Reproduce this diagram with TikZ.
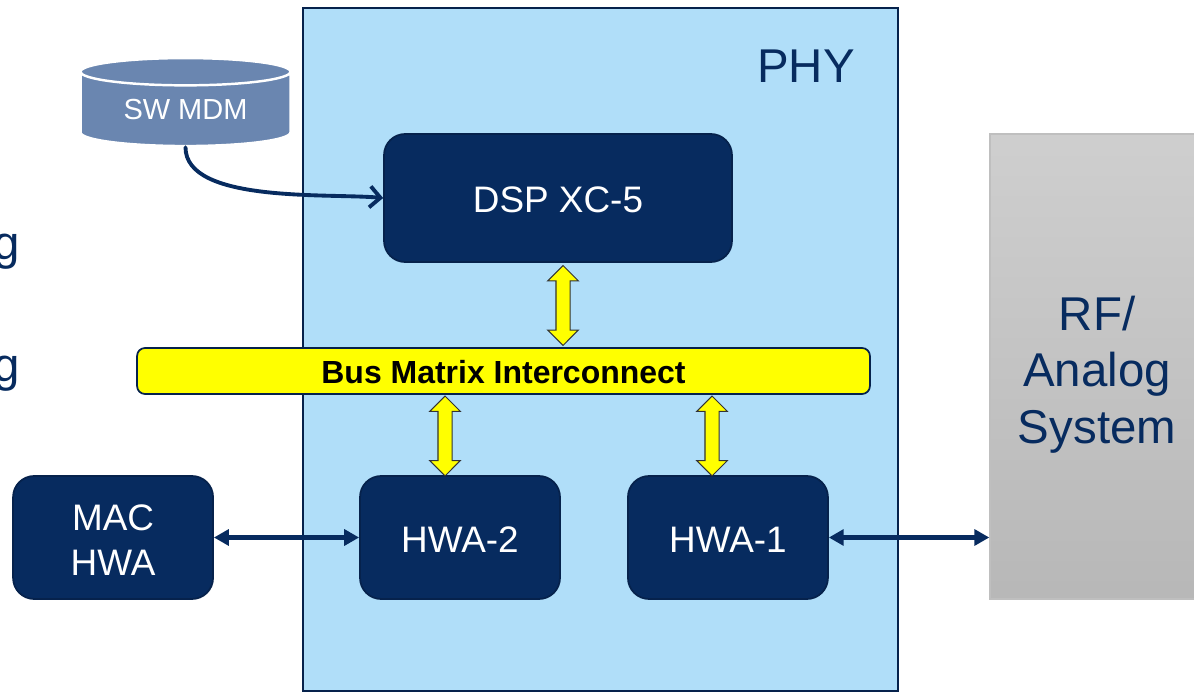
\documentclass[tikz,border=0pt]{standalone}
\usepackage{fontspec}
\setmainfont{Liberation Sans}
\usetikzlibrary{arrows.meta,shapes.geometric,shapes.arrows}
\definecolor{navy}{HTML}{072B5F}
\definecolor{navyline}{HTML}{06224C}
\definecolor{phyblue}{HTML}{B0DEF9}
\definecolor{dbblue}{HTML}{6A86B0}
\definecolor{busyellow}{HTML}{FFFF00}
\newcommand{\bigtext}{\fontsize{27}{32.2}\selectfont}
\newcommand{\midtext}{\fontsize{21}{25.6}\selectfont}
\begin{document}
\begin{tikzpicture}[x=0.02cm, y=-0.02cm, node distance={53.6mm},
	main/.style = {draw=navyline, fill=navy, line width=1pt, rounded corners=12pt, text=white, align=center, font=\midtext, minimum width=4cm, minimum height=2.46cm, inner sep=0pt},
	busarrow/.style = {draw=black!80, fill=busyellow, line width=0.6pt, shape=double arrow, rotate=90, inner xsep=0pt, inner ysep=0.13cm, minimum height=1.6cm, minimum width=0.6cm, double arrow head extend=0.165cm},
	link/.style = {{Triangle[length=8.5pt,width=9pt]}-{Triangle[length=8.5pt,width=9pt]}, navy, line width=2.8pt}]
	\useasboundingbox (0,0) rectangle (1194,692);
	\node[draw=navyline, fill=phyblue, line width=1.2pt, minimum width=11.9cm, minimum height=13.66cm, inner sep=0pt] (phy) at (600.5,349.5) {};
	\node[text=navy, font=\bigtext] (phylabel) at (806,66) {PHY};
	\node[draw=black!25, top color=black!19, bottom color=black!28, line width=0.8pt, text=navy, align=center, font=\bigtext, minimum width=4.28cm, minimum height=9.3cm, inner sep=0pt] (rf) at (1097,366.5) {\rule{0pt}{28.5pt}RF/\\Analog\\System};
	\node[font=\bigtext, text=navy, anchor=base east, inner sep=0pt] (g1) at (20,260) {g};
	\node[font=\bigtext, text=navy, anchor=base east, inner sep=0pt] (g2) at (20,382) {g};
	\node[shape=cylinder, shape border rotate=90, aspect=0.22, draw=white, line width=1.4pt, cylinder uses custom fill, cylinder body fill=dbblue, cylinder end fill=dbblue, text=white, font=\fontsize{16.5}{20}\selectfont, minimum width=4.2cm, minimum height=1.76cm, inner sep=0pt] (mdm) at (185.5,109.5) {SW MDM};
	\node[main, minimum width=6.96cm, minimum height=2.56cm] (dsp) at (558,198) {\rule{0pt}{17.2pt}DSP XC-5};
	\node[draw=navyline, fill=busyellow, line width=1pt, rounded corners=4.5pt, font=\bfseries\fontsize{18.2}{22}\selectfont, minimum width=14.66cm, minimum height=0.92cm, inner sep=0pt] (bus) at (503.5,371) {\rule{0pt}{14.5pt}Bus Matrix Interconnect};
	\node[main] (hwa2) at (460,537.5) {\rule{0pt}{17.2pt}HWA-2};
	\node[main] (hwa1) [right of=hwa2] {\rule{0pt}{17.2pt}HWA-1};
	\node[main, node distance={69.4mm}] (mac) [left of=hwa2] {\rule{0pt}{17.2pt}MAC\\HWA};
	\node[busarrow] (dspbus) at (563,305.5) {};
	\node[busarrow] (bushwa2) at (445,436) {};
	\node[busarrow] (bushwa1) at (712,436) {};
	\draw[link] (mac) -- (hwa2);
	\draw[link] (hwa1) -- (rf.west |- hwa1);
	\draw[-{Straight Barb[length=6pt,width=12pt]}, navy, line width=2.2pt, line cap=round] (mdm.south) to [out=-90,in=175,looseness=0.7] (dsp.west);
\end{tikzpicture}
\end{document}
